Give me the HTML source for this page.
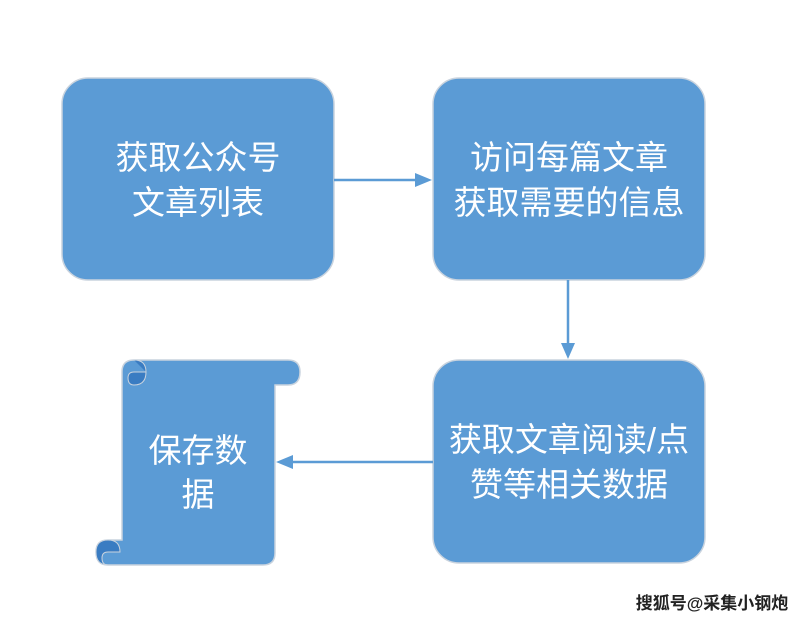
<!DOCTYPE html>
<html><head><meta charset="utf-8"><style>
body{margin:0;background:#fff;width:800px;height:622px;overflow:hidden}
text{font-family:"Liberation Sans","Noto Sans CJK SC",sans-serif;fill:#fff;font-size:33px}
</style></head><body>
<svg width="800" height="622" viewBox="0 0 800 622" xmlns="http://www.w3.org/2000/svg">
<g fill="#5b9bd5" stroke="#c9d3de" stroke-width="1.5">
<rect x="62" y="78" width="272" height="202" rx="26"/>
<rect x="433" y="78" width="272" height="202" rx="26"/>
<rect x="433" y="360" width="272" height="203" rx="26"/>
<path d="M122 372 Q122 360 134 360 L288 360 Q300 360 300 372 Q300 385 288 385 L275 385 L275 553 Q275 565 263 565 L108 565 Q96 565 96 552 Q96 540 108 540 L122 540 Z"/>
</g>
<g fill="#3a7cc2" stroke="#c9d3de" stroke-width="1">
<path d="M134 360 Q146 360 146 372 Q146 385 134 385 Q128 385 128 378 Q128 372 134 372 L146 372"/>
<path d="M108 540 Q120 540 120 552 L108 552 Q102 552 102 558 Q102 565 108 565 Q96 565 96 552 Q96 540 108 540 Z"/>
</g>
<g stroke="#5b9bd5" stroke-width="2.5" fill="none">
<line x1="334" y1="180" x2="418" y2="180"/>
<line x1="568" y1="280" x2="568" y2="346"/>
<line x1="433" y1="462" x2="290" y2="462"/>
</g>
<g fill="#5b9bd5">
<path d="M432 180 L415 173 L415 187 Z"/>
<path d="M568 359 L561 343 L575 343 Z"/>
<path d="M276 462 L293 455 L293 469 Z"/>
</g>
<g text-anchor="middle">
<text x="198" y="169">获取公众号</text>
<text x="198" y="214">文章列表</text>
<text x="569" y="169">访问每篇文章</text>
<text x="569" y="214">获取需要的信息</text>
<text x="569" y="451">获取文章阅读/点</text>
<text x="569" y="496">赞等相关数据</text>
<text x="198" y="462">保存数</text>
<text x="198" y="506">据</text>
</g>
<text x="712" y="609" text-anchor="middle" style="fill:#222;font-size:17px;font-weight:bold;stroke:#fff;stroke-width:2.5;paint-order:stroke">搜狐号@采集小钢炮</text>
</svg>
</body></html>
